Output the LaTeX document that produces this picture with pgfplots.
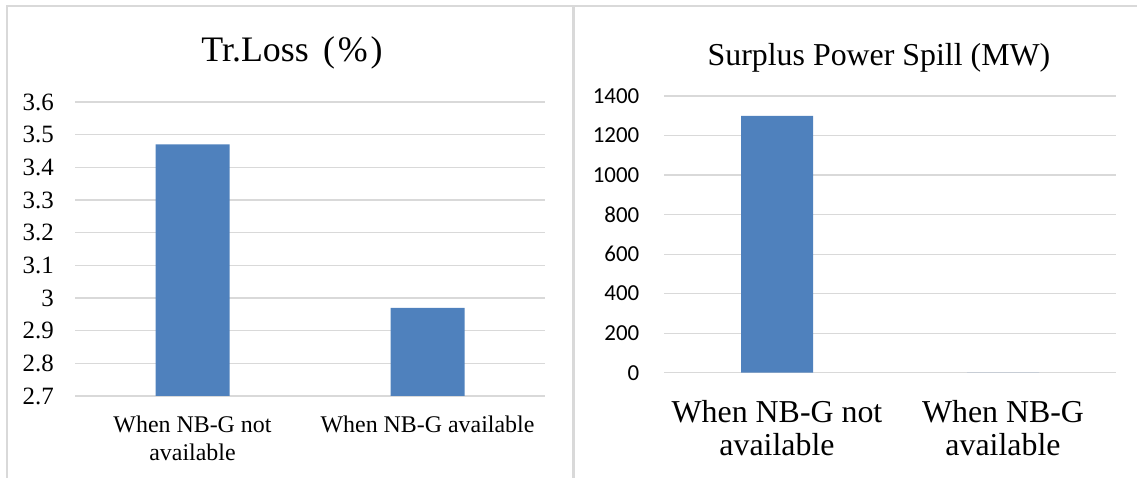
\documentclass[border=0pt]{standalone}
\usepackage{fontspec}
\setmainfont{Liberation Serif}
\newfontfamily\calibri{Carlito}
\usepackage{pgfplots}
\usepackage{pgfplotstable}
\pgfplotsset{compat=1.18}

\definecolor{barblue}{HTML}{4F81BD}
\definecolor{gridgray}{HTML}{D9D9D9}

% Transmission loss (%) per scenario
\pgfplotstableread{
idx value
0 3.47
1 2.97
}\lossdata

% Surplus power spilled (MW) per scenario
\pgfplotstableread{
idx value
0 1300
1 0
}\spilldata

\pgfplotsset{
  panel/.style={
    scale only axis,
    ybar,
    xmin=-0.5, xmax=1.5,
    xtick={0,1},
    axis line style={draw=none},
    major tick length=0pt,
    ymajorgrids,
    grid style={gridgray, line width=1.2bp},
    /pgf/number format/assume math mode=true,
    /pgf/number format/1000 sep={},
    clip=true,
  },
}

\begin{document}
\begin{tikzpicture}[x=1bp,y=1bp]
\path[use as bounding box] (0,0) rectangle (1137,478);

% chart frames
\draw[gridgray, line width=1.2bp] (7,0) -- (7,472) -- (1137,472);
\draw[gridgray, line width=3bp] (573,0) -- (573,472);

% titles
\node[anchor=base, font=\fontsize{36}{42}\selectfont] at (292,416.3)
  {Tr.Loss\hspace{0.4em}(\hspace{0.08em}\%\hspace{0.08em})};
\node[anchor=base, font=\fontsize{32}{38}\selectfont] at (879,412.3)
  {Surplus Power Spill (MW)};

% left: transmission loss
\begin{axis}[panel,
  at={(75bp,82bp)}, anchor=south west,
  width=470bp, height=294bp,
  ymin=2.7, ymax=3.6,
  ytick={2.7,2.8,2.9,3.0,3.1,3.2,3.3,3.4,3.5,3.6},
  yticklabels={2.7,2.8,2.9,3,3.1,3.2,3.3,3.4,3.5,3.6},
  yticklabel style={font=\fontsize{25}{28}\selectfont, anchor=east, inner sep=0pt, xshift=-21bp},
  xticklabels={{When NB-G not\\available},{When NB-G available}},
  xticklabel style={font=\fontsize{24}{27.7}\selectfont, align=center, anchor=north, inner sep=0pt, yshift=-20bp},
  bar width=74bp,
]
\addplot[fill=barblue, draw=none] table[x=idx, y=value] {\lossdata};
\end{axis}

% right: surplus power spill
\begin{axis}[panel,
  at={(664bp,105.3bp)}, anchor=south west,
  width=452bp, height=276.7bp,
  ymin=0, ymax=1400,
  ytick={0,200,400,600,800,1000,1200,1400},
  yticklabel style={font=\calibri\fontsize{23}{26}\selectfont, anchor=east, inner sep=0pt, xshift=-24.5bp},
  xticklabels={{When NB-G not\\available},{When NB-G\\available}},
  xticklabel style={font=\fontsize{32}{33.3}\selectfont, align=center, anchor=north, inner sep=0pt, yshift=-27bp},
  bar width=72bp,
]
\addplot[fill=barblue, draw=none] table[x=idx, y=value] {\spilldata};
\end{axis}
\end{tikzpicture}
\end{document}
